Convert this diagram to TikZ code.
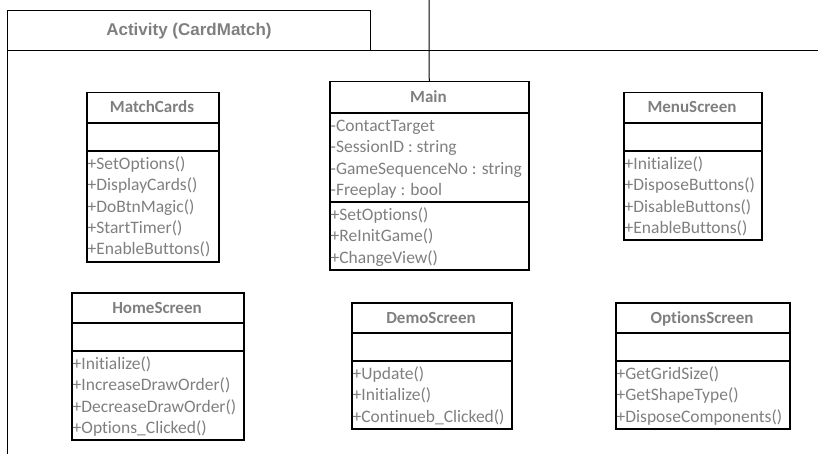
\documentclass[tikz,border=0pt]{standalone}
\usepackage{fontspec}
\setmainfont{Carlito}[Ligatures=NoCommon]
\newfontfamily\arialfont{Liberation Sans}
\definecolor{txtgrey}{HTML}{7F7F7F}
\tikzset{
  frameline/.style={line width=1pt, draw=black},
  clsbox/.style={draw=black, line width=1.5pt, inner sep=0pt, anchor=north west},
  clsline/.style={line width=1.5pt, draw=black},
  clstitle/.style={font=\fontsize{17}{20}\selectfont\bfseries, text=txtgrey, inner sep=0pt, anchor=base},
  mtext/.style={font=\fontsize{17.5}{21}\selectfont, text=txtgrey, inner sep=0pt, anchor=base west},
  acttitle/.style={font=\arialfont\fontsize{17}{20}\selectfont\bfseries, text=txtgrey, inner sep=0pt, anchor=base},
}
% name, x1, y1, x2, y2, sep1, sep2, title
\newcommand\umlbox[8]{%
  \node[clsbox, minimum width={#4pt-#2pt}, minimum height={#5pt-#3pt}] (#1) at (#2,#3) {};
  \draw[clsline] (#2,#6) -- (#4,#6);
  \draw[clsline] (#2,#7) -- (#4,#7);
  \node[clstitle] (#1-title) at ({(#2+#4)/2}, {(#3+#6)/2+5.5}) {#8};
}
% prefix, x1, separator y, list of lines
\newcommand\umllines[4]{%
  \foreach \t [count=\i from 0] in {#4} {
    \node[mtext] (#1-\i) at (#2+1.5, #3+18.5+\i*21.3) {\t};
  }
}
\begin{document}
\begin{tikzpicture}[x=1pt, y=-1pt]
\useasboundingbox (0,0) rectangle (818,454);
% package frame
\draw[frameline] (7,454) -- (7,11) -- (370,11) -- (370,51);
\draw[frameline] (7,51) -- (818,51);
\node[acttitle] (activity) at (189,36) {Activity (CardMatch)};
% classes
\umlbox{matchcards}{86}{92}{218}{261}{123}{151}{MatchCards}
\umllines{mc}{86}{151}{+SetOptions(), +DisplayCards(), +DoBtnMagic(), +StartTimer(), +EnableButtons()}
\umlbox{main}{329}{81}{528}{269}{113}{202}{Main}
\umllines{mainattr}{329}{113}{-ContactTarget, -SessionID : string, -GameSequenceNo : string, -Freeplay : bool}
\umllines{mainop}{329}{202}{+SetOptions(), +ReInitGame(), +ChangeView()}
\umlbox{menu}{623}{92}{761}{239}{123}{151}{MenuScreen}
\umllines{menuop}{623}{151}{+Initialize(), +DisposeButtons(), +DisableButtons(), +EnableButtons()}
\umlbox{home}{71}{292}{243}{439}{323}{351}{HomeScreen}
\umllines{homeop}{71}{351}{+Initialize(), +IncreaseDrawOrder(), +DecreaseDrawOrder(), +Options\_Clicked()}
\umlbox{demo}{351}{302}{511}{428}{333}{361}{DemoScreen}
\umllines{demoop}{351}{361}{+Update(), +Initialize(), +Continueb\_Clicked()}
\umlbox{options}{615}{302}{789}{428}{333}{361}{OptionsScreen}
\umllines{optop}{615}{361}{+GetGridSize(), +GetShapeType(), +DisposeComponents()}
% connector from above into Main
\coordinate (topin) at (429,0);
\draw[frameline] (topin) -- (main.north);
\end{tikzpicture}
\end{document}
